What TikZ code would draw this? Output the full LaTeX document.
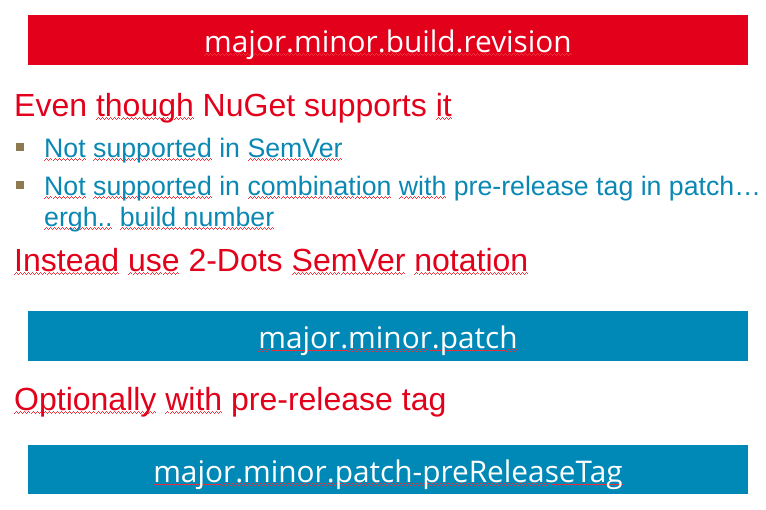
\documentclass[tikz,border=0pt]{standalone}
\usepackage{fontspec}
\setmainfont{Liberation Sans}
\newfontfamily\boxfont{Open Sans}
\definecolor{brand}{HTML}{E2001A}
\definecolor{sky}{HTML}{0088B6}
\definecolor{skytext}{HTML}{0A88B4}
\definecolor{bulletc}{HTML}{8E7A50}
\definecolor{squig}{HTML}{F0303A}
\newcommand\wpix[1]{\lower#1pt\hbox{\vrule width1pt height0.8pt depth0pt}}
\newcommand\wavecell{\hbox{\wpix{4}\wpix{3}\wpix{2}\wpix{3}}}
\newcommand\sq[1]{\setbox0\hbox{#1}\rlap{\hbox to\wd0{\color{squig}\xleaders\wavecell\hfill}}\box0\relax}
\begin{document}
\begin{tikzpicture}[x=1pt,y=-1pt,
  band/.style={fill=#1,draw=none},
  bandtext/.style={anchor=base,inner sep=0pt,text=white,font=\boxfont\fontsize{29.8}{32}\selectfont},
  headtext/.style={anchor=base west,inner sep=0pt,text=brand,font=\fontsize{32}{36}\selectfont},
  itemtext/.style={anchor=base west,inner sep=0pt,text=skytext,font=\fontsize{26.7}{30}\selectfont},
  bul/.style={fill=bulletc,draw=none}]
\useasboundingbox (0,0) rectangle (766,509);
% top red band
\fill[band=brand] (28,15) rectangle (748,65);
\node[bandtext] (b1) at (388,52) {\sq{major.minor.build.revision}};
% heading 1
\node[headtext] (h1) at (14,116) {Even \sq{though} NuGet supports \sq{it}};
% bullets
\fill[bul] (16,143) rectangle (24,151);
\node[itemtext] (i1) at (44,157) {\sq{Not} \sq{supported} in \sq{SemVer}};
\fill[bul] (16,181) rectangle (24,189);
\node[itemtext] (i2) at (44,195) {\sq{Not} \sq{supported} in \sq{combination} \sq{with} pre-release tag in patch…};
\node[itemtext] (i3) at (44,226) {\sq{ergh..} \sq{build number}};
% heading 2
\node[headtext] (h2) at (14,271) {\sq{Instead} \sq{use} 2-Dots \sq{SemVer} \sq{notation}};
% blue band 1
\fill[band=sky] (28,311) rectangle (748,361);
\node[bandtext] (b2) at (388,348) {\sq{major.minor.patch}};
% heading 3
\node[headtext] (h3) at (14,410) {\sq{Optionally} \sq{with} pre-release tag};
% blue band 2
\fill[band=sky] (28,445) rectangle (748,494);
\node[bandtext] (b3) at (388,482) {\sq{major.minor.patch-preReleaseTag}};
\end{tikzpicture}
\end{document}
